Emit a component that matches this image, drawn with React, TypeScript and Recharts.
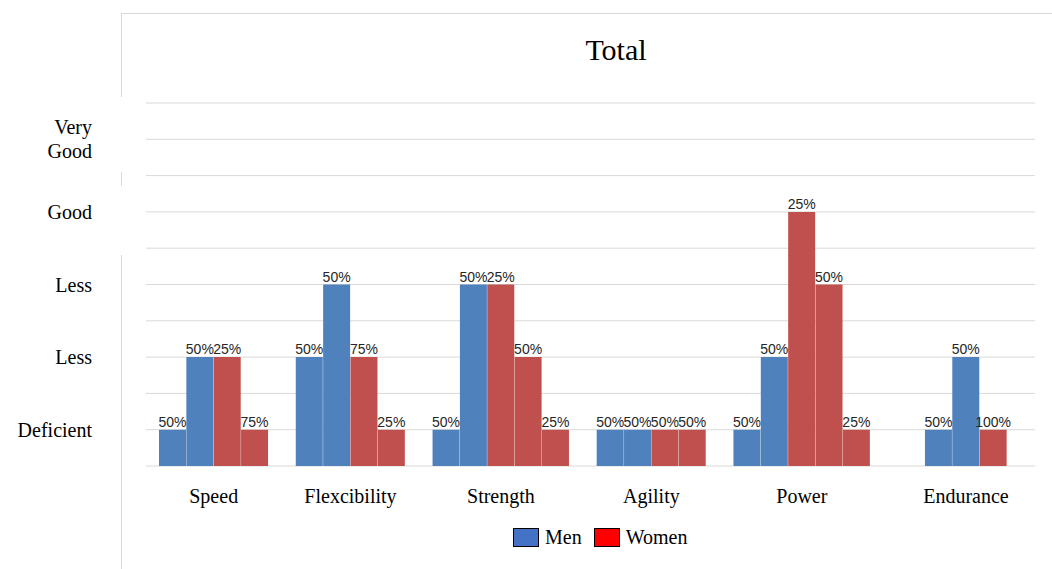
import { BarChart, Bar, XAxis, YAxis, CartesianGrid, Legend, LabelList } from 'recharts';

const groups = ['Speed', 'Flexcibility', 'Strength', 'Agility', 'Power', 'Endurance'];
const menLevels = [[1, 3], [3, 5], [1, 5], [1, 1], [1, 3], [1, 3]];
const menShares = [['50%', '50%'], ['50%', '50%'], ['50%', '50%'], ['50%', '50%'], ['50%', '50%'], ['50%', '50%']];
const womenLevels = [[3, 1], [3, 1], [5, 3, 1], [1, 1], [7, 5, 1], [1]];
const womenShares = [['25%', '75%'], ['75%', '25%'], ['25%', '50%', '25%'], ['50%', '50%'], ['25%', '50%', '25%'], ['100%']];
const levelTicks = [0, 1, 2, 3, 4, 5, 6, 7, 8, 9, 10];
const levelNames: Record<number, string[]> = {
  1: ['Deficient'],
  3: ['Less'],
  5: ['Less'],
  7: ['Good'],
  9: ['Very', 'Good'],
};

// empty bar slots left after each group
const spacerSlots = [1, 1, 1, 1, 2, 0];

const serif = '"Liberation Serif", "Times New Roman", serif';
const labelFont = '"Liberation Sans", Arial, sans-serif';
const legendSwatch: Record<string, string> = { Men: '#4472c4', Women: '#ff0000' };

type Slot = {
  key: string;
  men?: number;
  women?: number;
  menLabel?: string;
  womenLabel?: string;
  caption?: string;
  captionOnEdge?: boolean;
};

// one slot per bar; the group name sits on the middle slot of its group
const slots: Slot[] = [];
groups.forEach((g, gi) => {
  const start = slots.length;
  menLevels[gi].forEach((v, i) => slots.push({ key: `${g}-m${i}`, men: v, menLabel: menShares[gi][i] }));
  womenLevels[gi].forEach((v, i) => slots.push({ key: `${g}-w${i}`, women: v, womenLabel: womenShares[gi][i] }));
  const count = slots.length - start;
  const mid = slots[start + Math.floor((count - 1) / 2)];
  mid.caption = g;
  mid.captionOnEdge = count % 2 === 0;
  for (let s = 0; s < spacerSlots[gi]; s++) slots.push({ key: `${g}-gap${s}` });
});

const GroupTick = (props: any) => {
  const { x, y, payload } = props;
  const slot = slots[payload.index];
  if (!slot || !slot.caption) return <g />;
  const shift = slot.captionOnEdge ? payload.offset ?? 0 : 0;
  return (
    <text x={x + shift} y={y} dy="0.71em" textAnchor="middle" fontFamily={serif} fontSize={20} fill="#000">
      {slot.caption}
    </text>
  );
};

const LevelTick = (props: any) => {
  const { x, y, payload } = props;
  const lines = levelNames[payload.value];
  if (!lines) return <g />;
  const first = -((lines.length - 1) * 12);
  return (
    <text x={x} y={y} textAnchor="end" fontFamily={serif} fontSize={20} fill="#000">
      {lines.map((l, i) => (
        <tspan key={i} x={x} y={y + first + i * 24} dy="0.35em">
          {l}
        </tspan>
      ))}
    </text>
  );
};

const renderLegend = (props: any) => {
  const { payload = [] } = props;
  return (
    <div style={{ display: 'flex', alignItems: 'center', fontFamily: serif, fontSize: 20, color: '#000' }}>
      {payload.map((p: any) => (
        <div key={p.value} style={{ display: 'flex', alignItems: 'center', marginRight: 12 }}>
          <span
            style={{
              display: 'inline-block',
              width: 24,
              height: 17,
              border: '1.5px solid #000',
              background: legendSwatch[p.value],
              marginRight: 6,
            }}
          />
          <span>{p.value}</span>
        </div>
      ))}
    </div>
  );
};

const frame = '#d9d9d9';

export default function App() {
  return (
    <div style={{ position: 'absolute', left: 0, top: 0, width: 1052, height: 569, background: '#fff' }}>
      <div style={{ position: 'absolute', left: 121, top: 13, width: 931, borderTop: `1px solid ${frame}` }} />
      <div style={{ position: 'absolute', left: 121, top: 13, height: 84, borderLeft: `1px solid ${frame}` }} />
      <div style={{ position: 'absolute', left: 121, top: 172, height: 14, borderLeft: `1px solid ${frame}` }} />
      <div style={{ position: 'absolute', left: 121, top: 255, height: 314, borderLeft: `1px solid ${frame}` }} />
      <BarChart
        width={1052}
        height={569}
        data={slots}
        margin={{ top: 103, right: 17, bottom: 0, left: 0 }}
        barCategoryGap={0}
        barGap={0}
      >
        <CartesianGrid vertical={false} stroke="#d9d9d9" xAxisId="slots" />
        <XAxis
          xAxisId="slots"
          dataKey="key"
          padding={{ left: 13, right: 28 }}
          interval={0}
          axisLine={false}
          tickLine={false}
          tickSize={0}
          tickMargin={23}
          height={103}
          tick={<GroupTick />}
        />
        <YAxis
          width={146}
          domain={[0, 10]}
          ticks={levelTicks}
          interval={0}
          axisLine={false}
          tickLine={false}
          tickSize={0}
          tickMargin={54}
          tick={<LevelTick />}
        />
        <Legend
          content={renderLegend}
          layout="horizontal"
          verticalAlign="middle"
          align="center"
          wrapperStyle={{ left: 513, top: 526, width: 260 }}
        />
        <Bar dataKey="men" name="Men" stackId="s" xAxisId="slots" fill="#4f81bd" isAnimationActive={false}>
          <LabelList dataKey="menLabel" position="top" offset={3} fill="#262626" fontSize={14} fontFamily={labelFont} />
        </Bar>
        <Bar dataKey="women" name="Women" stackId="s" xAxisId="slots" fill="#c0504d" isAnimationActive={false}>
          <LabelList dataKey="womenLabel" position="top" offset={3} fill="#262626" fontSize={14} fontFamily={labelFont} />
        </Bar>
      </BarChart>
      <div
        style={{
          position: 'absolute',
          left: 516,
          top: 33,
          width: 200,
          textAlign: 'center',
          fontFamily: serif,
          fontSize: 30,
          lineHeight: '34px',
          color: '#000',
        }}
      >
        Total
      </div>
    </div>
  );
}
